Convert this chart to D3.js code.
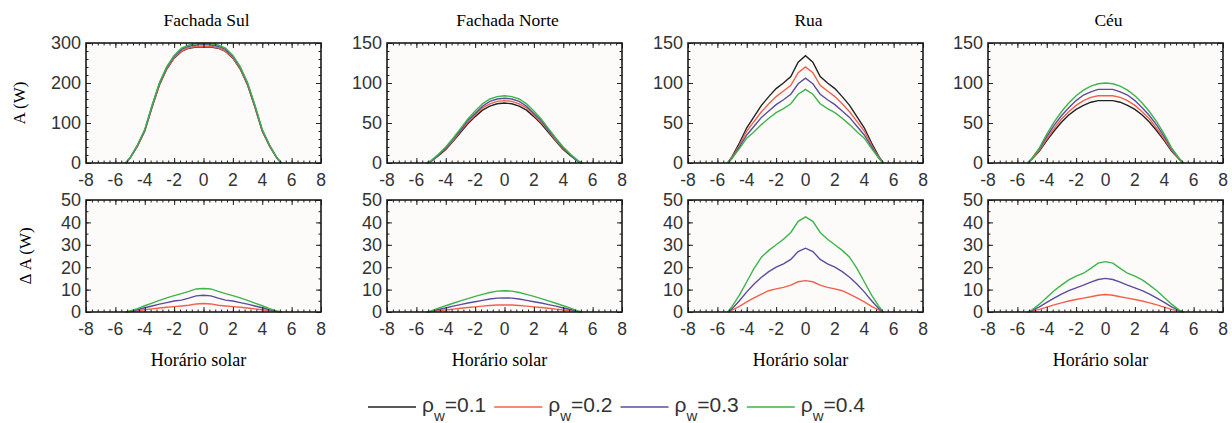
<!DOCTYPE html>
<html>
<head>
<meta charset="utf-8">
<script src="https://cdn.jsdelivr.net/npm/d3@7/dist/d3.min.js"></script>
<style>
  body { margin: 0; background: #fff; }
  svg { display: block; }
</style>
</head>
<body>
<div id="chart"></div>
<script>
// data
const hours = [-5.3, -5, -4.5, -4, -3.5, -3, -2.5, -2, -1.5, -1, -0.5, 0, 0.5, 1, 1.5, 2, 2.5, 3, 3.5, 4, 4.5, 5, 5.3];
const panelTitles = ['Fachada Sul', 'Fachada Norte', 'Rua', 'Céu'];
const rhoValues = ['0.1', '0.2', '0.3', '0.4'];
const xTicks = [-8, -6, -4, -2, 0, 2, 4, 6, 8];
const topYTicks = [[0, 100, 200, 300], [0, 50, 100, 150], [0, 50, 100, 150], [0, 50, 100, 150]];
const bottomYTicks = [0, 10, 20, 30, 40, 50];

// A (W), one list per rho (0.1, 0.2, 0.3, 0.4)
const sulA = [
  [0, 12, 42, 80, 140, 195, 235, 262, 279, 287, 290, 290, 290, 287, 279, 262, 235, 195, 140, 80, 42, 12, 0],
  [0, 12, 42, 80, 140, 196, 236, 263, 280, 288, 291, 291, 291, 288, 280, 263, 236, 196, 140, 80, 42, 12, 0],
  [0, 13, 44, 82, 143, 199, 239, 267, 284, 292, 295, 296, 295, 292, 284, 267, 239, 199, 143, 82, 44, 13, 0],
  [0, 13, 45, 84, 145, 201, 241, 269, 287, 295, 298, 299, 298, 295, 287, 269, 241, 201, 145, 84, 45, 13, 0]
];
const norteA = [
  [0, 2, 9, 17, 27, 38, 49, 58, 66, 71, 74, 75, 74, 71, 66, 58, 49, 38, 27, 17, 9, 2, 0],
  [0, 2, 10, 18, 28, 40, 51, 60, 69, 74, 77, 78, 77, 74, 69, 60, 51, 40, 28, 18, 10, 2, 0],
  [0, 2, 10, 19, 30, 41, 53, 62, 71, 77, 80, 81, 80, 77, 71, 62, 53, 41, 30, 19, 10, 2, 0],
  [0, 3, 11, 20, 31, 43, 55, 65, 74, 80, 83, 84, 83, 80, 74, 65, 55, 43, 31, 20, 11, 3, 0]
];
const ruaA = [
  [0, 8, 25, 44, 58, 72, 83, 93, 100, 108, 126, 134, 126, 108, 100, 93, 83, 72, 58, 44, 25, 8, 0],
  [0, 7, 22, 40, 52, 64, 74, 83, 90, 97, 113, 120, 113, 97, 90, 83, 74, 64, 52, 40, 22, 7, 0],
  [0, 6, 20, 35, 46, 57, 65, 73, 79, 86, 99, 106, 99, 86, 79, 73, 65, 57, 46, 35, 20, 6, 0],
  [0, 6, 18, 31, 39, 48, 56, 63, 68, 74, 86, 92, 86, 74, 68, 63, 56, 48, 39, 31, 18, 6, 0]
];
const ceuA = [
  [0, 5, 15, 28, 40, 51, 60, 67, 72, 76, 78, 78, 78, 76, 72, 67, 60, 51, 40, 28, 15, 5, 0],
  [0, 5, 16, 30, 43, 55, 64, 72, 78, 82, 84, 84, 84, 82, 78, 72, 64, 55, 43, 30, 16, 5, 0],
  [0, 6, 18, 33, 47, 59, 69, 78, 85, 89, 92, 92, 92, 89, 85, 78, 69, 59, 47, 33, 18, 6, 0],
  [0, 6, 19, 36, 51, 64, 75, 84, 91, 96, 99, 100, 99, 96, 91, 84, 75, 64, 51, 36, 19, 6, 0]
];

// delta A (W), one list per rho (0.2, 0.3, 0.4)
const sulDA = [
  [0, 0.2, 0.5, 1.0, 1.4, 1.8, 2.1, 2.4, 2.7, 3.0, 3.6, 3.8, 3.6, 3.0, 2.7, 2.4, 2.1, 1.8, 1.4, 1.0, 0.5, 0.2, 0],
  [0, 0.3, 1.0, 1.9, 2.7, 3.5, 4.2, 4.9, 5.3, 6.2, 7.2, 7.5, 7.2, 6.2, 5.3, 4.9, 4.2, 3.5, 2.7, 1.9, 1.0, 0.3, 0],
  [0, 0.5, 1.5, 2.8, 4.0, 5.2, 6.3, 7.3, 8.2, 9.2, 10.3, 10.5, 10.3, 9.2, 8.2, 7.3, 6.3, 5.2, 4.0, 2.8, 1.5, 0.5, 0]
];
const norteDA = [
  [0, 0.2, 0.6, 0.9, 1.3, 1.7, 2.0, 2.3, 2.6, 2.9, 3.1, 3.2, 3.1, 2.9, 2.6, 2.3, 2.0, 1.7, 1.3, 0.9, 0.6, 0.2, 0],
  [0, 0.3, 1.1, 1.8, 2.6, 3.3, 4.0, 4.6, 5.2, 5.8, 6.2, 6.3, 6.2, 5.8, 5.2, 4.6, 4.0, 3.3, 2.6, 1.8, 1.1, 0.3, 0],
  [0, 0.5, 1.7, 2.8, 3.9, 5.0, 6.0, 7.0, 7.9, 8.7, 9.3, 9.5, 9.3, 8.7, 7.9, 7.0, 6.0, 5.0, 3.9, 2.8, 1.7, 0.5, 0]
];
const ruaDA = [
  [0, 0.8, 2.5, 4.5, 6.3, 8.0, 9.5, 10.3, 11.0, 12.0, 13.5, 14.0, 13.5, 12.0, 11.0, 10.3, 9.5, 8.0, 6.3, 4.5, 2.5, 0.8, 0],
  [0, 1.5, 5.0, 9.0, 12.5, 15.5, 18.0, 20.0, 21.5, 23.5, 27.0, 28.5, 27.0, 23.5, 21.5, 20.0, 18.0, 15.5, 12.5, 9.0, 5.0, 1.5, 0],
  [0, 2.5, 7.5, 13.5, 19.5, 24.5, 27.5, 30.0, 32.5, 35.5, 40.5, 42.5, 40.5, 35.5, 32.5, 30.0, 27.5, 24.5, 19.5, 13.5, 7.5, 2.5, 0]
];
const ceuDA = [
  [0, 0.4, 1.2, 2.2, 3.2, 4.1, 4.9, 5.6, 6.2, 6.8, 7.5, 7.8, 7.5, 6.8, 6.2, 5.6, 4.9, 4.1, 3.2, 2.2, 1.2, 0.4, 0],
  [0, 0.7, 2.3, 4.3, 6.2, 8.0, 9.5, 10.8, 12.0, 13.3, 14.5, 15.0, 14.5, 13.3, 12.0, 10.8, 9.5, 8.0, 6.2, 4.3, 2.3, 0.7, 0],
  [0, 1.0, 3.5, 6.5, 9.5, 12.0, 14.3, 16.0, 17.3, 19.5, 21.8, 22.5, 21.8, 19.5, 17.3, 16.0, 14.3, 12.0, 9.5, 6.5, 3.5, 1.0, 0]
];

const topData = [sulA, norteA, ruaA, ceuA];
const bottomData = [sulDA, norteDA, ruaDA, ceuDA];

// config
const width = 1232, height = 423;
const colors = ['#222222', '#f2604a', '#5b4d9e', '#3cb54a'];
const panelLefts = [86, 387, 688, 988];
const panelW = 235;
const rows = [
  { top: 43, bottom: 163, data: topData },
  { top: 200, bottom: 312, data: bottomData }
];
const sans = "'Liberation Sans', Arial, sans-serif";
const serif = "'Liberation Serif', 'Times New Roman', serif";

const svg = d3.select('#chart')
  .append('svg')
  .attr('width', width)
  .attr('height', height);

const line = (x, y) => d3.line()
  .x((d, i) => x(hours[i]))
  .y(d => y(d));

rows.forEach((row, r) => {
  panelLefts.forEach((left, p) => {
    const x = d3.scaleLinear().domain([-8, 8]).range([left, left + panelW]);
    const yTicks = r === 0 ? topYTicks[p] : bottomYTicks;
    const yMax = yTicks[yTicks.length - 1];
    const y = d3.scaleLinear().domain([0, yMax]).range([row.bottom, row.top]);
    const g = svg.append('g').attr('class', 'panel');

    // background
    g.append('rect')
      .attr('x', left).attr('y', row.top)
      .attr('width', panelW).attr('height', row.bottom - row.top)
      .attr('fill', '#fcfbf9');

    // curves (colour index offset by 1 in the delta row)
    const off = r === 0 ? 0 : 1;
    g.selectAll('path.curve')
      .data(row.data[p])
      .enter()
      .append('path')
      .attr('class', 'curve')
      .attr('d', line(x, y))
      .attr('fill', 'none')
      .attr('stroke', (d, i) => colors[i + off])
      .attr('stroke-width', 1.4);

    // ticks on all four sides, inward
    const xMinor = d3.range(-8, 8.001, 0.4);
    const yStep = yTicks[1] - yTicks[0];
    const yMinor = d3.range(0, yMax + 0.001, r === 0 ? yStep / 5 : 5);
    const drawAxis = (axis, tr) => {
      const a = g.append('g').attr('transform', tr).call(axis);
      a.select('.domain').remove();
      a.selectAll('line').attr('stroke', '#222').attr('stroke-width', 1);
      a.selectAll('text').remove();
    };
    drawAxis(d3.axisBottom(x).tickValues(xMinor).tickSize(-2.5), `translate(0,${row.bottom})`);
    drawAxis(d3.axisBottom(x).tickValues(xTicks).tickSize(-5), `translate(0,${row.bottom})`);
    drawAxis(d3.axisTop(x).tickValues(xMinor).tickSize(-2.5), `translate(0,${row.top})`);
    drawAxis(d3.axisTop(x).tickValues(xTicks).tickSize(-5), `translate(0,${row.top})`);
    drawAxis(d3.axisLeft(y).tickValues(yMinor).tickSize(-2.5), `translate(${left},0)`);
    drawAxis(d3.axisLeft(y).tickValues(yTicks).tickSize(-5), `translate(${left},0)`);
    drawAxis(d3.axisRight(y).tickValues(yMinor).tickSize(-2.5), `translate(${left + panelW},0)`);
    drawAxis(d3.axisRight(y).tickValues(yTicks).tickSize(-5), `translate(${left + panelW},0)`);

    // frame
    g.append('rect')
      .attr('x', left).attr('y', row.top)
      .attr('width', panelW).attr('height', row.bottom - row.top)
      .attr('fill', 'none')
      .attr('stroke', '#1a1a1a')
      .attr('stroke-width', 1.6);

    // tick labels
    g.selectAll('text.xt')
      .data(xTicks)
      .enter()
      .append('text')
      .attr('x', d => x(d))
      .attr('y', row.bottom + 23)
      .attr('text-anchor', 'middle')
      .attr('font-family', sans)
      .attr('font-size', 17.5)
      .attr('fill', '#333')
      .text(d => d);
    g.selectAll('text.yt')
      .data(yTicks)
      .enter()
      .append('text')
      .attr('x', left - 5)
      .attr('y', d => y(d))
      .attr('dy', '0.36em')
      .attr('text-anchor', 'end')
      .attr('font-family', sans)
      .attr('font-size', 18)
      .attr('fill', '#333')
      .text(d => d);

    if (r === 0) {
      g.append('text')
        .attr('x', left + panelW / 2 + 3)
        .attr('y', 26)
        .attr('text-anchor', 'middle')
        .attr('font-family', serif)
        .attr('font-size', 17.5)
        .text(panelTitles[p]);
    } else {
      g.append('text')
        .attr('x', left + panelW / 2 - 5)
        .attr('y', 366)
        .attr('text-anchor', 'middle')
        .attr('font-family', serif)
        .attr('font-size', 18)
        .text('Horário solar');
    }
  });
});

// y axis titles
svg.append('text')
  .attr('transform', 'translate(25,103) rotate(-90)')
  .attr('text-anchor', 'middle')
  .attr('font-family', serif)
  .attr('font-size', 17)
  .text('A (W)');
svg.append('text')
  .attr('transform', 'translate(31,256) rotate(-90)')
  .attr('text-anchor', 'middle')
  .attr('font-family', serif)
  .attr('font-size', 17)
  .text('Δ A (W)');

// legend
const legend = svg.append('g').attr('class', 'legend');
let lx = 368;
rhoValues.forEach((v, i) => {
  legend.append('line')
    .attr('x1', lx).attr('x2', lx + 48)
    .attr('y1', 407).attr('y2', 407)
    .attr('stroke', colors[i])
    .attr('stroke-width', 1.4);
  const t = legend.append('text')
    .attr('x', lx + 54)
    .attr('y', 412)
    .attr('font-family', sans)
    .attr('font-size', 21)
    .attr('fill', '#333');
  t.append('tspan').text('ρ');
  t.append('tspan').attr('font-size', 15).attr('dy', 9).text('w');
  t.append('tspan').attr('dy', -9).text('=' + v);
  lx += 54 + t.node().getComputedTextLength() + 8;
});
</script>
</body>
</html>
